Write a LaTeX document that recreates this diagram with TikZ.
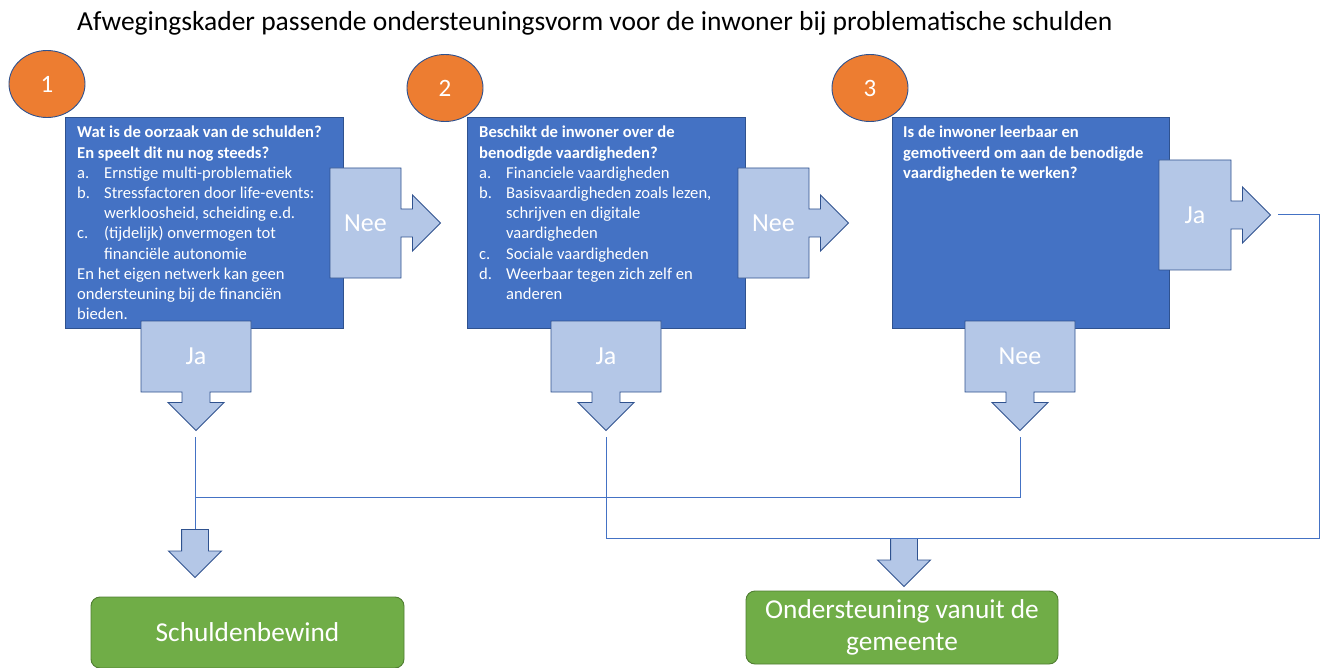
\documentclass[tikz,border=0pt]{standalone}
\usepackage{fontspec}
\setmainfont{Carlito}
\usetikzlibrary{shapes.geometric,shapes.arrows,positioning}
\definecolor{boxblue}{HTML}{4472C4}
\definecolor{edgeblue}{HTML}{2F528F}
\definecolor{paleblue}{HTML}{B4C7E7}
\definecolor{badgeorange}{HTML}{ED7D31}
\definecolor{okgreen}{HTML}{70AD47}
\definecolor{edgegreen}{HTML}{507E32}
\newcommand{\lbl}[1]{\makebox[27pt][l]{#1}}

\begin{document}
\begin{tikzpicture}[x=1pt,y=-1pt,
  qbox/.style={draw=edgeblue,fill=boxblue,line width=0.9pt,minimum width=278pt,minimum height=211pt},
  qtext/.style={text=white,anchor=north west,inner sep=0pt,align=left,font=\fontsize{16.6}{20.2}\selectfont},
  badge/.style={ellipse,draw=edgeblue,fill=badgeorange,line width=0.9pt,minimum width=76pt,minimum height=67pt,text=white,font=\fontsize{25}{30}\selectfont},
  choice/.style={arrow box,draw=edgeblue,fill=paleblue,line width=0.9pt,text=white,font=\fontsize{26}{30}\selectfont,
    arrow box shaft width=28pt,arrow box head extend=14pt,arrow box head indent=0pt,arrow box tip angle=90},
  goright/.style={choice,minimum width=71pt,minimum height=110pt,arrow box arrows={east:39pt from border}},
  godown/.style={choice,minimum width=110pt,minimum height=71pt,arrow box arrows={south:38pt from border}},
  drop/.style={single arrow,shape border rotate=270,draw=edgeblue,fill=paleblue,line width=0.9pt,inner sep=13pt,
    minimum height=48pt,single arrow head extend=13pt,anchor=tail},
  link/.style={draw=boxblue,line width=0.9pt},
  outcome/.style={draw=edgegreen,fill=okgreen,line width=0.9pt,rounded corners=9pt,text=white,align=center,font=\fontsize{27.3}{32}\selectfont}]
\useasboundingbox (0,0) rectangle (1327,668);

\node[anchor=base west,inner sep=0pt,font=\fontsize{27.5}{32}\selectfont] (title) at (77,31)
  {Afwegingskader passende ondersteuningsvorm voor de inwoner bij problematische schulden};

% vragen
\node[qbox] (q1) at (204,222.5) {};
\node[qbox] (q2) at (606,222.5) {};
\node[qbox,minimum width=277pt] (q3) at (1030.5,222.5) {};

\node[qtext] (t1) at (77,126) {\textbf{Wat is de oorzaak van de schulden?}\\
  \textbf{En speelt dit nu nog steeds?}\\
  \lbl{a.}Ernstige multi-problematiek\\
  \lbl{b.}Stressfactoren door life-events:\\
  \lbl{}werkloosheid, scheiding e.d.\\
  \lbl{c.}(tijdelijk) onvermogen tot\\
  \lbl{}financiële autonomie\\
  En het eigen netwerk kan geen\\
  ondersteuning bij de financiën\\
  bieden.};
\node[qtext] (t2) at (479,126) {\textbf{Beschikt de inwoner over de}\\
  \textbf{benodigde vaardigheden?}\\
  \lbl{a.}Financiele vaardigheden\\
  \lbl{b.}Basisvaardigheden zoals lezen,\\
  \lbl{}schrijven en digitale\\
  \lbl{}vaardigheden\\
  \lbl{c.}Sociale vaardigheden\\
  \lbl{d.}Weerbaar tegen zich zelf en\\
  \lbl{}anderen};
\node[qtext] (t3) at (903,126) {\textbf{Is de inwoner leerbaar en}\\
  \textbf{gemotiveerd om aan de benodigde}\\
  \textbf{vaardigheden te werken?}};

\node[badge] (b1) at (47,84) {1};
\node[badge] (b2) at (445,88) {2};
\node[badge] (b3) at (870,88) {3};

% keuzes
\node[goright] (no1) at (365.5,223) {Nee};
\node[goright] (no2) at (773.5,223) {Nee};
\node[goright,minimum width=72pt] (yes3) at (1195,215) {Ja};
\node[godown] (yes1) at (196,356.5) {Ja};
\node[godown] (yes2) at (606,356.5) {Ja};
\node[godown] (no3) at (1020,356.5) {Nee};

% lijnen
\coordinate (e1) at (195,437);
\coordinate (e2) at (606,437);
\coordinate (e3) at (1020,437);
\coordinate (e4) at (1278,214);
\coordinate (m1) at (195,497);
\coordinate (k1) at (1319,538);
\node[drop] (d1) at (195,529) {};
\node[drop] (d2) at (904,538) {};
\draw[link] (e1) -- (d1.tail);
\draw[link] (e3) |- (m1);
\draw[link] (e4) -| (k1) -| (e2);

% uitkomsten
\node[outcome,minimum width=313pt,minimum height=71pt] (r1) at (247.5,632.5) {Schuldenbewind};
\node[outcome,minimum width=312pt,minimum height=73pt] (r2) at (902,627.5) {Ondersteuning vanuit de\\gemeente};
\end{tikzpicture}
\end{document}
